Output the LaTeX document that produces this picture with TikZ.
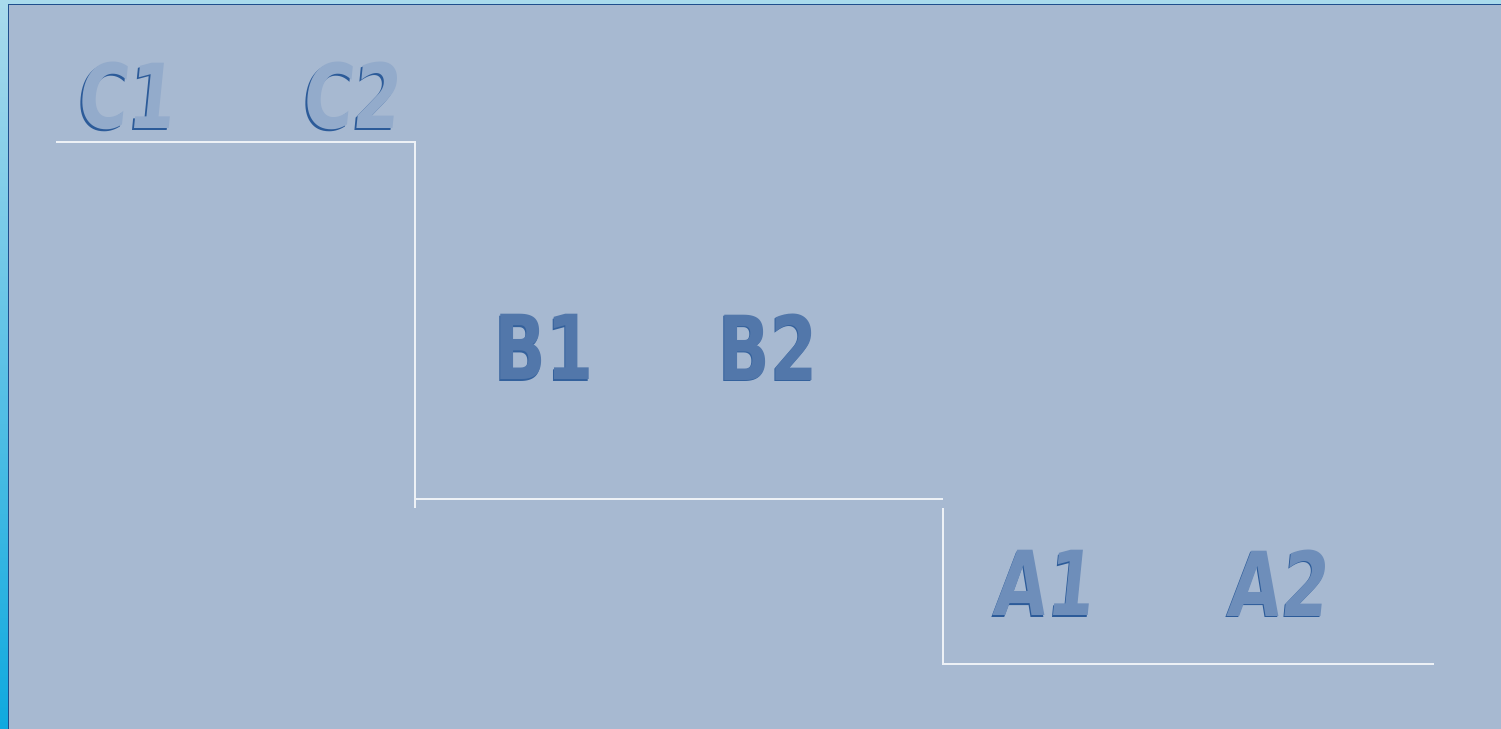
\documentclass[tikz,border=0pt]{standalone}
\usepackage{fontspec}
\usepackage{tikz}
\usetikzlibrary{positioning,calc}
\usepackage{xcolor}
\newfontfamily\tierfont[FakeStretch=0.76]{DejaVu Sans}
\newfontfamily\tierslant[FakeStretch=0.76,FakeSlant=0.1]{DejaVu Sans}
\definecolor{panelblue}{HTML}{A7B9D1}
\definecolor{edgeblue}{HTML}{1F4E8C}
\definecolor{stripTop}{HTML}{A9DAEC}
\definecolor{stripBot}{HTML}{0FA9DF}
\definecolor{stairwhite}{HTML}{EDF1F6}
\definecolor{shadeblue}{HTML}{2C5B99}
\definecolor{tierC}{HTML}{93ABCB}
\definecolor{tierB}{HTML}{5277AA}
\definecolor{tierA}{HTML}{6E8EBA}

\begin{document}
\begin{tikzpicture}[
    x=0.02cm, y=-0.02cm,
    stairline/.style={draw=stairwhite, line width=1.2pt},
    tier/.style={inner sep=0pt, font=\tierfont\bfseries\fontsize{51}{51}\selectfont},
    tierit/.style={inner sep=0pt, font=\tierslant\bfseries\fontsize{51}{51}\selectfont},
    shadow/.style={text=shadeblue}
]
    \useasboundingbox (0,0) rectangle (1501,729);
    % background and frame
    \fill[stripTop] (0,0) rectangle (1501,5);
    \shade[top color=stripTop, bottom color=stripBot] (0,0) rectangle (9,729);
    \fill[panelblue] (9,5) rectangle (1501,729);
    \draw[edgeblue, line width=1pt] (8.5,729) -- (8.5,4.5) -- (1501,4.5);

    % stair steps
    \coordinate (cstart) at (56,142);
    \coordinate (ccorner) at (415,142);
    \coordinate (cend) at (415,508);
    \coordinate (bstart) at (415,499);
    \coordinate (bend) at (943,499);
    \coordinate (astart) at (943,508);
    \coordinate (acorner) at (943,664);
    \coordinate (aend) at (1434,664);
    \draw[stairline] (cstart) -- (ccorner) -- (cend);
    \draw[stairline] (bstart) -- (bend);
    \draw[stairline] (astart) -- (acorner) -- (aend);

    % labels, each with a dark copy beneath
    \node[tierit, shadow] (c1s) at (123.5,97.5) {C1};
    \node[tierit, text=tierC] (c1) at (125,96) {C1};
    \node[tierit, shadow] (c2s) at (348.5,97.5) {C2};
    \node[tierit, text=tierC] (c2) at (350,96) {C2};
    \node[tier, text=shadeblue!80!tierB] (b1s) at (543,348.5) {B1};
    \node[tier, text=tierB] (b1) at (544,347) {B1};
    \node[tier, text=shadeblue!80!tierB] (b2s) at (767,348.5) {B2};
    \node[tier, text=tierB] (b2) at (768,347) {B2};
    \node[tierit, shadow] (a1s) at (1041.5,584.5) {A1};
    \node[tierit, text=tierA] (a1) at (1043,583) {A1};
    \node[tierit, shadow] (a2s) at (1275.5,584.5) {A2};
    \node[tierit, text=tierA] (a2) at (1277,583) {A2};
\end{tikzpicture}
\end{document}
